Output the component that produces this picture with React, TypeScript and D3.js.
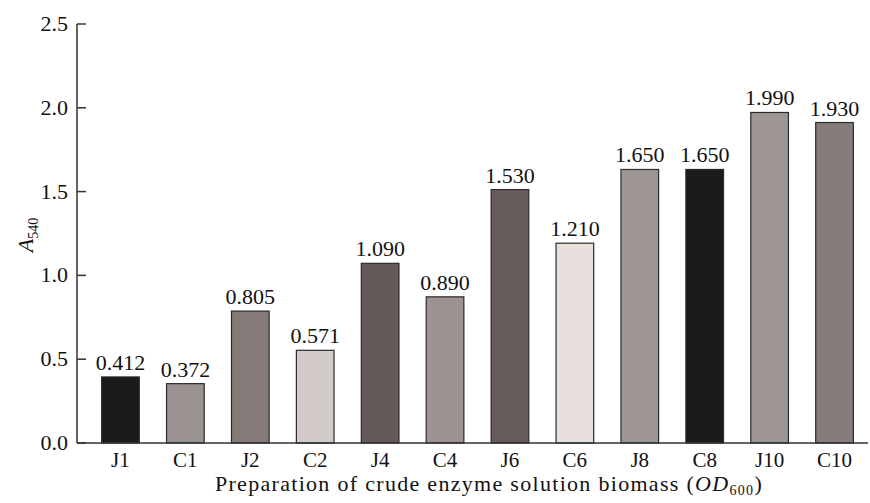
// A540 bar chart of crude enzyme solution biomass
import React from 'react';
import * as d3 from 'd3';

const categories = ['J1', 'C1', 'J2', 'C2', 'J4', 'C4', 'J6', 'C6', 'J8', 'C8', 'J10', 'C10'];
const values = [0.412, 0.372, 0.805, 0.571, 1.09, 0.89, 1.53, 1.21, 1.65, 1.65, 1.99, 1.93];
const valueLabels = ['0.412', '0.372', '0.805', '0.571', '1.090', '0.890', '1.530', '1.210', '1.650', '1.650', '1.990', '1.930'];
const barColors = ['#1c1a1a', '#9b9391', '#857a78', '#d3cbc8', '#655a57', '#9d9492',
  '#665b58', '#e8e0dd', '#9e9694', '#1c1b1b', '#9e9694', '#857b78'];
const yTicks = [0, 0.5, 1.0, 1.5, 2.0, 2.5];

const W = 870;
const H = 503;
const axisX = 77;
const axisRight = 868;
const y0 = 443;
const yTop = 24;
const serif = { fontFamily: 'Liberation Serif, DejaVu Serif, serif' };

export default function App() {
  const x = d3.scaleBand<string>()
    .domain(categories)
    .range([88, 867])
    .paddingInner(0.42)
    .paddingOuter(0.21);

  const y = d3.scaleLinear().domain([0, 2.5]).range([y0, yTop]);

  return (
    <svg width={W} height={H} style={{ position: 'absolute', left: 0, top: 0, background: '#fff' }}>
      {/* bars */}
      {categories.map((c, i) => (
        <g key={c}>
          <rect
            x={x(c)}
            y={y(values[i]) + 3}
            width={x.bandwidth()}
            height={y0 - y(values[i]) - 3}
            fill={barColors[i]}
            stroke="#2b2b2b"
            strokeWidth={1.2}
          />
          <text
            x={(x(c) ?? 0) + x.bandwidth() / 2}
            y={y(values[i]) - 4}
            textAnchor="middle"
            fontSize={22}
            fill="#111"
            style={serif}
          >{valueLabels[i]}</text>
          <text
            x={(x(c) ?? 0) + x.bandwidth() / 2}
            y={467}
            textAnchor="middle"
            fontSize={21}
            fill="#111"
            style={serif}
          >{c}</text>
        </g>
      ))}

      {/* axes */}
      <line x1={axisX} x2={axisX} y1={yTop} y2={y0} stroke="#333" strokeWidth={1.5} />
      <line x1={axisX} x2={axisRight} y1={y0} y2={y0} stroke="#333" strokeWidth={1.5} />
      {yTicks.map(t => (
        <g key={t}>
          <line x1={axisX} x2={axisX + 9} y1={y(t)} y2={y(t)} stroke="#333" strokeWidth={1.5} />
          <text x={68} y={y(t) + 7} textAnchor="end" fontSize={22} fill="#111" style={serif}>{t.toFixed(1)}</text>
        </g>
      ))}

      {/* y label */}
      <text transform="translate(33,235) rotate(-90)" textAnchor="middle" fontSize={22} fill="#111" style={serif}>
        <tspan fontStyle="italic">A</tspan>
        <tspan fontSize={14} dy={5}>540</tspan>
      </text>

      {/* x label */}
      <text x={489} y={491} textAnchor="middle" fontSize={22} fill="#111" letterSpacing={1.3} style={serif}>
        Preparation of crude enzyme solution biomass (
        <tspan fontStyle="italic">OD</tspan>
        <tspan fontSize={14} dy={4}>600</tspan>
        <tspan dy={-4}>)</tspan>
      </text>
    </svg>
  );
}
